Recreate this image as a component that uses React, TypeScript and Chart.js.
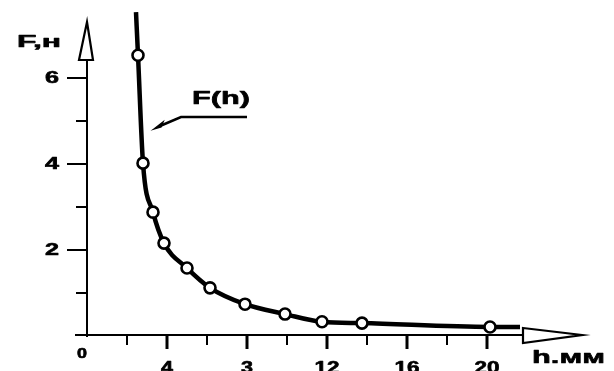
import React, { useEffect, useRef } from "react";
import { Chart, registerables } from "chart.js";

Chart.register(...registerables);

// ---- data ----
const hValues = [2.45, 2.55, 2.8, 3.3, 3.85, 5.0, 6.15, 7.9, 9.9, 11.75, 13.75, 20.15, 21.65];
const fValues = [7.53, 6.53, 4.02, 2.88, 2.16, 1.58, 1.12, 0.74, 0.51, 0.33, 0.3, 0.21, 0.21];
const markerShown = [false, true, true, true, true, true, true, true, true, true, true, true, false];

const xMinorTicks = [2, 6, 10, 14, 18];
const xMajorTicks = [4, 8, 12, 16, 20];
const xTickLabels = ["4", "3", "12", "16", "20"];
const yMinorTicks = [1, 3, 5];
const yMajorTicks = [2, 4, 6];
const yTickLabels = ["2", "4", "6"];

const xAxisTitle = "h.мм";
const yAxisTitle = "F,н";
const curveLabel = "F(h)";

const FONT = "'Liberation Sans', Arial, sans-serif";

function drawStretched(
  ctx: CanvasRenderingContext2D,
  text: string,
  x: number,
  y: number,
  size: number,
  width: number,
  align: "left" | "center" | "right"
) {
  ctx.font = `bold ${size}px ${FONT}`;
  const w = ctx.measureText(text).width;
  const sx = width / w;
  const left = align === "left" ? x : align === "center" ? x - width / 2 : x - width;
  ctx.save();
  ctx.translate(left, y);
  ctx.scale(sx, 1);
  ctx.textAlign = "left";
  ctx.textBaseline = "alphabetic";
  ctx.fillStyle = "#000";
  ctx.strokeStyle = "#000";
  ctx.lineWidth = 0.6;
  ctx.lineJoin = "round";
  ctx.fillText(text, 0, 0);
  ctx.strokeText(text, 0, 0);
  ctx.restore();
}

const axesPlugin = {
  id: "handAxes",
  beforeDraw(chart: any) {
    const ctx = chart.ctx;
    ctx.save();
    ctx.fillStyle = "#fff";
    ctx.fillRect(0, 0, chart.width, chart.height);
    ctx.restore();
  },
  beforeDatasetsDraw(chart: any) {
    const ctx: CanvasRenderingContext2D = chart.ctx;
    const xs = chart.scales.x;
    const ys = chart.scales.y;
    const x0 = xs.getPixelForValue(0);
    const y0 = ys.getPixelForValue(0);
    ctx.save();
    ctx.strokeStyle = "#000";
    ctx.lineCap = "butt";

    // y axis line
    ctx.lineWidth = 2;
    ctx.beginPath();
    ctx.moveTo(x0, y0 + 1);
    ctx.lineTo(x0, 60);
    ctx.stroke();
    // y arrow (open)
    ctx.beginPath();
    ctx.moveTo(x0, 22);
    ctx.lineTo(x0 + 6, 60);
    ctx.lineTo(x0 - 8, 60);
    ctx.closePath();
    ctx.fillStyle = "#fff";
    ctx.fill();
    ctx.lineWidth = 2.2;
    ctx.stroke();

    // x axis line
    ctx.lineWidth = 2;
    ctx.beginPath();
    ctx.moveTo(x0 - 12, y0 - 1);
    ctx.lineTo(523, y0 - 1);
    ctx.stroke();
    // x arrow (open)
    ctx.beginPath();
    ctx.moveTo(523, y0 - 8);
    ctx.lineTo(582, y0 - 1);
    ctx.lineTo(523, y0 + 7);
    ctx.closePath();
    ctx.fillStyle = "#fff";
    ctx.fill();
    ctx.lineWidth = 2.2;
    ctx.stroke();

    // y ticks
    ctx.lineWidth = 2;
    yMajorTicks.forEach((v) => {
      const py = ys.getPixelForValue(v);
      ctx.beginPath();
      ctx.moveTo(x0 - 20, py);
      ctx.lineTo(x0, py);
      ctx.stroke();
    });
    yMinorTicks.forEach((v) => {
      const py = ys.getPixelForValue(v);
      ctx.beginPath();
      ctx.moveTo(x0 - 11, py);
      ctx.lineTo(x0, py);
      ctx.stroke();
    });

    // x ticks
    ctx.lineWidth = 2;
    xMinorTicks.forEach((v) => {
      const px = xs.getPixelForValue(v);
      ctx.beginPath();
      ctx.moveTo(px, y0 - 1);
      ctx.lineTo(px, y0 + 9);
      ctx.stroke();
    });
    ctx.lineWidth = 3;
    xMajorTicks.forEach((v) => {
      const px = xs.getPixelForValue(v);
      ctx.beginPath();
      ctx.moveTo(px, y0 - 1);
      ctx.lineTo(px, y0 + 13);
      ctx.stroke();
    });
    ctx.restore();
  },
  afterDraw(chart: any) {
    const ctx: CanvasRenderingContext2D = chart.ctx;
    const xs = chart.scales.x;
    const ys = chart.scales.y;
    const x0 = xs.getPixelForValue(0);
    const y0 = ys.getPixelForValue(0);

    // tick labels
    yMajorTicks.forEach((v, i) => {
      const py = ys.getPixelForValue(v);
      drawStretched(ctx, yTickLabels[i], x0 - 28, py + 5, 16, 14, "right");
    });
    xMajorTicks.forEach((v, i) => {
      const px = xs.getPixelForValue(v);
      const t = xTickLabels[i];
      drawStretched(ctx, t, px, y0 + 37, 16, t.length > 1 ? 25 : 12, "center");
    });
    drawStretched(ctx, "0", x0 - 5, y0 + 22, 14, 10, "center");

    // axis titles
    drawStretched(ctx, yAxisTitle, 17, 47, 16, 44, "left");
    drawStretched(ctx, xAxisTitle, 532, 363, 19, 73, "left");

    // curve label with leader
    drawStretched(ctx, curveLabel, 192, 104, 19, 58, "left");
    ctx.save();
    ctx.strokeStyle = "#000";
    ctx.lineWidth = 2.5;
    ctx.beginPath();
    ctx.moveTo(247, 117);
    ctx.lineTo(181, 117);
    ctx.lineTo(160, 126);
    ctx.stroke();
    ctx.lineWidth = 1.5;
    ctx.beginPath();
    ctx.moveTo(154, 129);
    ctx.lineTo(163, 122);
    ctx.lineTo(161, 127);
    ctx.closePath();
    ctx.fillStyle = "#000";
    ctx.fill();
    ctx.stroke();
    ctx.restore();
  },
};

export default function App() {
  const ref = useRef<HTMLCanvasElement | null>(null);

  useEffect(() => {
    if (!ref.current) return;
    const data = hValues.map((h, i) => ({ x: h, y: fValues[i] }));
    const chart = new Chart(ref.current, {
      type: "scatter",
      data: {
        datasets: [
          {
            data,
            showLine: true,
            borderColor: "#000",
            borderWidth: 4.5,
            cubicInterpolationMode: "monotone",
            pointRadius: markerShown.map((m) => (m ? 5.5 : 0)),
            pointHoverRadius: markerShown.map((m) => (m ? 5.5 : 0)),
            pointBackgroundColor: "#fff",
            pointBorderColor: "#000",
            pointBorderWidth: 2.6,
            clip: false,
          } as any,
        ],
      },
      options: {
        responsive: false,
        animation: false,
        events: [],
        layout: { padding: { left: 87, right: 27, top: 0, bottom: 35 } },
        plugins: { legend: { display: false }, tooltip: { enabled: false } },
        scales: {
          x: { type: "linear", min: 0, max: 25, display: false },
          y: { type: "linear", min: 0, max: 336 / 43, display: false },
        },
      },
      plugins: [axesPlugin],
    });
    return () => chart.destroy();
  }, []);

  return (
    <div style={{ position: "fixed", left: 0, top: 0, width: 614, height: 371, background: "#fff" }}>
      <canvas ref={ref} width={614} height={371} style={{ display: "block" }} />
    </div>
  );
}
